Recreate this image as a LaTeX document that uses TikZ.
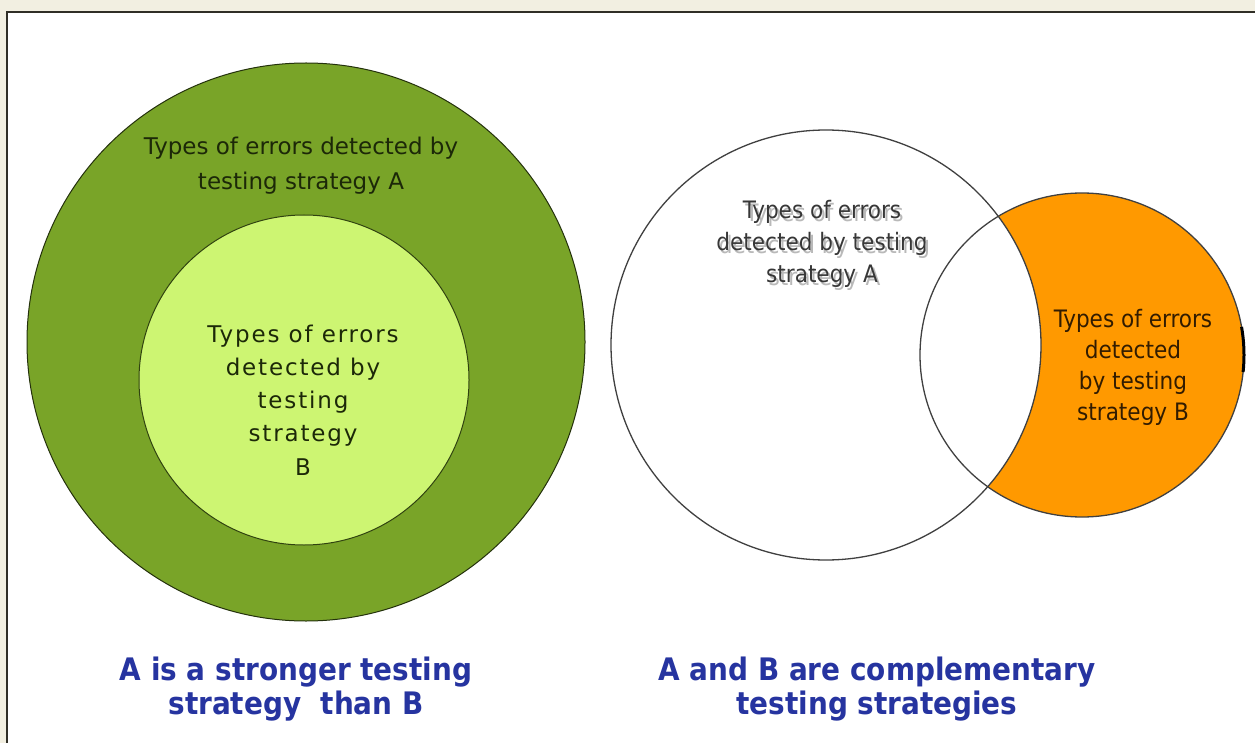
\documentclass[tikz,border=0pt]{standalone}
\usepackage{fontspec}
\usetikzlibrary{calc}
\setmainfont{DejaVu Sans}
\newfontfamily\dv{DejaVu Sans}
\newfontfamily\dvsp[LetterSpace=8]{DejaVu Sans}
\newfontfamily\dvc{DejaVu Sans Condensed}
\definecolor{bgbeige}{RGB}{242,239,225}
\definecolor{framedark}{RGB}{48,46,38}
\definecolor{darkgreen}{RGB}{121,164,40}
\definecolor{lightgreen}{RGB}{205,245,114}
\definecolor{orangefill}{RGB}{255,153,0}
\definecolor{bluetext}{RGB}{38,52,160}
\definecolor{greentext}{RGB}{28,40,8}
\definecolor{graytext}{RGB}{55,55,55}
\definecolor{shadowgray}{RGB}{185,185,185}
\definecolor{browntext}{RGB}{50,28,0}
\tikzset{
  setcircle/.style={circle, inner sep=0pt, outer sep=0pt},
  labeltext/.style={align=center, inner sep=0pt},
  captiontext/.style={align=center, inner sep=0pt, text=bluetext,
    font=\dvc\bfseries\fontsize{31}{34}\selectfont},
}
\begin{document}
\begin{tikzpicture}[x=1pt,y=-1pt]
\useasboundingbox (0,0) rectangle (1255,743);
% frame
\fill[bgbeige] (0,0) rectangle (1255,743);
\fill[white] (7,12) rectangle (1255,743);
\draw[framedark, line width=2.5pt] (7,743) -- (7,12) -- (1255,12);

% left diagram
\node[setcircle, minimum size=558pt, fill=darkgreen, draw=black!70!darkgreen, line width=1pt] (bigA) at (306,342) {};
\node[setcircle, minimum size=330pt, fill=lightgreen, draw=black!60!darkgreen, line width=1pt] (innerB) at (304,380) {};
\node[labeltext, text=greentext, font=\dv\fontsize{23}{35}\selectfont] (textA) at (301,166) {Types of errors detected by\\testing strategy A};
\node[labeltext, text=greentext, font=\dvsp\fontsize{23}{33.2}\selectfont] (textB) at (303,400) {Types of errors\\detected by\\testing\\strategy\\B};

% right diagram
\node[setcircle, minimum size=324pt, fill=orangefill] (orangeB) at (1082,355) {};
\node[setcircle, minimum size=430pt, fill=white] (whiteA) at (826,345) {};
\node[setcircle, minimum size=430pt, draw=black!75, line width=1.3pt] (whiteAline) at (826,345) {};
\node[setcircle, minimum size=324pt, draw=black!75, line width=1.3pt] (orangeBline) at (1082,355) {};
\draw[black, line width=3pt] ($(orangeBline.center)+(-10:162)$) arc[start angle=-10, end angle=6, radius=162];

\node[labeltext, text=shadowgray, font=\dvc\fontsize{24}{32}\selectfont] (textCshadow) at (824.5,246.5) {Types of errors\\detected by testing\\strategy A};
\node[labeltext, text=graytext, font=\dvc\fontsize{24}{32}\selectfont] (textC) at (822,244) {Types of errors\\detected by testing\\strategy A};
\node[labeltext, text=browntext, font=\dvc\fontsize{24}{31}\selectfont] (textD) at (1133,367) {Types of errors\\detected\\by testing\\strategy B};

% captions
\node[captiontext] (capL) at (296,689) {A is a stronger testing\\strategy\ \ than B};
\node[captiontext] (capR) at (877,689) {A and B are complementary\\testing strategies};
\end{tikzpicture}
\end{document}
